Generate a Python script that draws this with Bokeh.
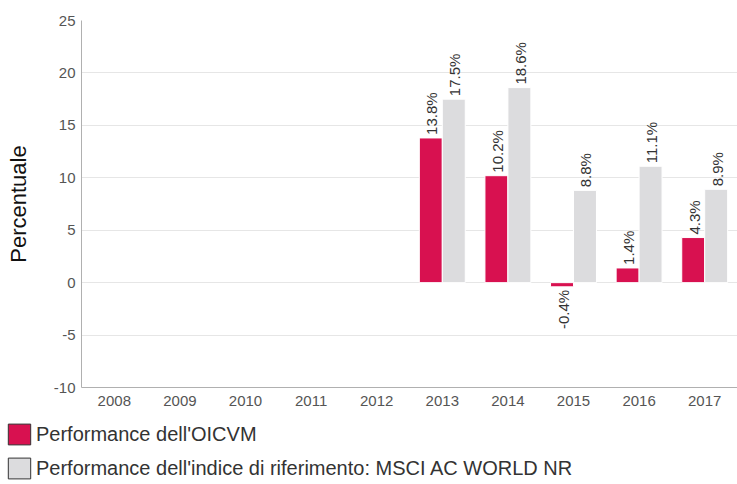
from bokeh.plotting import figure
from bokeh.models import ColumnDataSource, Legend, LegendItem, Range1d, FixedTicker
from bokeh.transform import dodge
from bokeh.core.properties import value
from bokeh.embed import file_html
from bokeh.resources import INLINE
import math

years = ["2008", "2009", "2010", "2011", "2012", "2013", "2014", "2015", "2016", "2017"]
fund = [None, None, None, None, None, 13.8, 10.2, -0.4, 1.4, 4.3]
bench = [None, None, None, None, None, 17.5, 18.6, 8.8, 11.1, 8.9]
fund_name = "Performance dell'OICVM"
bench_name = "Performance dell'indice di riferimento: MSCI AC WORLD NR"
y_title = "Percentuale"
y_ticks = [-10, -5, 0, 5, 10, 15, 20, 25]
y_tick_labels = ["-10", "-5", "0", "5", "10", "15", "20", "25"]

RED = "#d81150"
GREY = "#dcdcde"
FONT = "Liberation Sans"

def build(vals):
    xs, ys, labels, aligns, offs = [], [], [], [], []
    for y, v in zip(years, vals):
        if v is None:
            continue
        xs.append(y)
        ys.append(v)
        labels.append(f"{v:.1f}%")
        aligns.append("left" if v >= 0 else "right")
        offs.append(-3 if v >= 0 else 3)
    return ColumnDataSource(dict(x=xs, v=ys, lab=labels, align=aligns, off=offs))

fsrc = build(fund)
bsrc = build(bench)

p = figure(x_range=years, y_range=Range1d(-10, 25), width=737, height=415,
           output_backend="svg", toolbar_location=None,
           min_border_left=81, min_border_right=0, min_border_top=20, min_border_bottom=28)
p.outline_line_color = None
p.background_fill_color = "white"

p.vbar(x=dodge("x", -0.175, range=p.x_range), top="v", bottom=0, width=0.35,
       source=fsrc, fill_color=RED, line_color="white", line_width=1)
p.vbar(x=dodge("x", 0.175, range=p.x_range), top="v", bottom=0, width=0.35,
       source=bsrc, fill_color=GREY, line_color="white", line_width=1)

for src, off in ((fsrc, -0.175), (bsrc, 0.175)):
    p.text(x=dodge("x", off, range=p.x_range), y="v", text="lab", source=src,
           angle=math.pi / 2, text_align="align", text_baseline="middle",
           x_offset=1, y_offset="off",
           text_font=value(FONT), text_font_size="15px", text_color="#333333")

p.yaxis.ticker = FixedTicker(ticks=y_ticks)
p.yaxis.major_label_overrides = dict(zip(y_ticks, y_tick_labels))
p.yaxis.axis_label = y_title
p.yaxis.axis_label_text_font = FONT
p.yaxis.axis_label_text_font_size = "22px"
p.yaxis.axis_label_text_font_style = "normal"
p.yaxis.axis_label_text_color = "#111111"
p.yaxis.axis_label_standoff = 20
for ax in (p.xaxis, p.yaxis):
    ax.axis_line_color = "#b0b0b0"
    ax.major_tick_line_color = None
    ax.minor_tick_line_color = None
    ax.major_tick_out = 0
    ax.major_tick_in = 0
    ax.minor_tick_out = 0
    ax.major_label_text_font = FONT
    ax.major_label_text_font_size = "15px"
    ax.major_label_text_color = "#555555"
p.xaxis.major_label_standoff = 8
p.yaxis.major_label_standoff = 6
p.xgrid.grid_line_color = None
p.ygrid.grid_line_color = "#e6e6e6"
p.ygrid.ticker = FixedTicker(ticks=y_ticks)

# legend panel: separate root; its bars sit below the visible y range so
# only the legend swatches show
lg = figure(width=737, height=69, x_range=years, y_range=Range1d(100, 101),
            output_backend="svg", toolbar_location=None,
            min_border_left=0, min_border_right=0, min_border_top=0, min_border_bottom=0)
lg.axis.visible = False
lg.grid.grid_line_color = None
lg.outline_line_color = None
lr1 = lg.vbar(x="x", top="v", bottom=0, width=0.35, source=fsrc,
              fill_color=RED, line_color="#333333", line_width=1)
lr2 = lg.vbar(x="x", top="v", bottom=0, width=0.35, source=bsrc,
              fill_color=GREY, line_color="#333333", line_width=1)
legend = Legend(items=[LegendItem(label=fund_name, renderers=[lr1]),
                       LegendItem(label=bench_name, renderers=[lr2])],
                orientation="vertical", location=(5, 3),
                glyph_width=28, glyph_height=26, label_standoff=3,
                spacing=8, padding=0, margin=0, border_line_color=None,
                background_fill_alpha=0,
                label_text_font=FONT, label_text_font_size="20px",
                label_text_color="#333333", label_height=26)
lg.add_layout(legend, "center")

open("out.html", "w").write(file_html([p, lg], INLINE))
